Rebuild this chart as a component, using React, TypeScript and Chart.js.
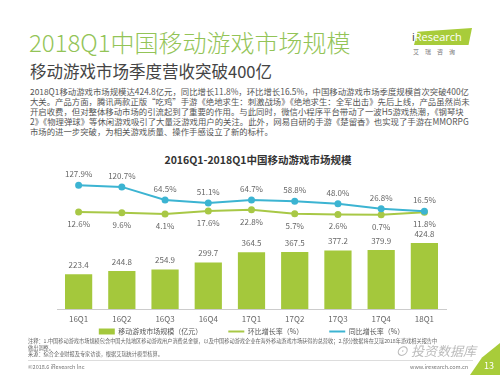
import React, { useEffect, useRef } from 'react';
import { Chart, registerables } from 'chart.js';

Chart.register(...registerables);

const categories = ['16Q1', '16Q2', '16Q3', '16Q4', '17Q1', '17Q2', '17Q3', '17Q4', '18Q1'];
const marketSize = [223.4, 244.8, 254.9, 299.7, 364.5, 367.5, 377.2, 379.9, 424.8];
const qoqGrowth = [12.6, 9.6, 4.1, 17.6, 22.8, 5.7, 2.6, 0.7, 11.8];
const yoyGrowth = [127.9, 120.7, 64.5, 51.1, 64.7, 58.8, 48.0, 26.8, 16.5];
const seriesNames = ['移动游戏市场规模（亿元）', '环比增长率（%）', '同比增长率（%）'];

const BAR_COLOR = '#a4c83c';
const QOQ_COLOR = '#a8c846';
const YOY_COLOR = '#3cb4d2';
const CJK = '"Noto Sans CJK SC", "Noto Sans", sans-serif';

const paragraph = [
  '2018Q1移动游戏市场规模达424.8亿元，同比增长11.8%，环比增长16.5%，中国移动游戏市场季度规模首次突破400亿',
  '大关。产品方面，腾讯两款正版“吃鸡”手游《绝地求生：刺激战场》《绝地求生：全军出击》先后上线，产品虽然尚未',
  '开启收费，但对整体移动市场的引流起到了重要的作用。与此同时，微信小程序平台带动了一波H5游戏热潮，《钢琴块',
  '2》《物理弹球》等休闲游戏吸引了大量泛游戏用户的关注。此外，网易自研的手游《楚留香》也实现了手游在MMORPG',
  '市场的进一步突破，为相关游戏质量、操作手感设立了新的标杆。',
];

const notes = [
  '注释：1.中国移动游戏市场规模包含中国大陆地区移动游戏用户消费总金额，以及中国移动游戏企业在海外移动游戏市场获得的总营收；2.部分数据将在艾瑞2018年游戏相关报告中',
  '做出调整。',
  '来源：综合企业财报及专家访谈，根据艾瑞统计模型核算。',
];

const valueLabels = {
  id: 'valueLabels',
  afterDatasetsDraw(chart: any) {
    const ctx = chart.ctx;
    ctx.save();
    ctx.font = '8px ' + CJK;
    ctx.fillStyle = '#666';
    ctx.textAlign = 'center';
    ctx.textBaseline = 'middle';
    chart.data.datasets.forEach((ds: any, di: number) => {
      const meta = chart.getDatasetMeta(di);
      meta.data.forEach((el: any, i: number) => {
        const v = ds.data[i] as number;
        if (di === 0) {
          ctx.fillText(v.toFixed(1), el.x, el.y - 9);
        } else if (di === 1) {
          ctx.fillText(v.toFixed(1) + '%', el.x, el.y + 12);
        } else {
          ctx.fillText(v.toFixed(1) + '%', el.x, el.y - 11);
        }
      });
    });
    ctx.restore();
  },
};

// moves the legend row up, closer to the axis labels, keeping wide gaps between items
const legendShift = {
  id: 'legendShift',
  afterLayout(chart: any) {
    const lg = chart.legend;
    if (lg) {
      lg.top -= 23;
      lg.bottom -= 23;
    }
  },
};

function ChartBox() {
  const ref = useRef<HTMLCanvasElement>(null);
  useEffect(() => {
    if (!ref.current) return;
    const chart = new Chart(ref.current, {
      type: 'bar',
      data: {
        labels: categories,
        datasets: [
          {
            type: 'bar',
            label: seriesNames[0],
            data: marketSize,
            backgroundColor: BAR_COLOR,
            yAxisID: 'yBar',
            barPercentage: 0.63,
            categoryPercentage: 1,
            order: 3,
          } as any,
          {
            type: 'line',
            label: seriesNames[1],
            data: qoqGrowth,
            borderColor: QOQ_COLOR,
            backgroundColor: QOQ_COLOR,
            borderWidth: 2,
            pointRadius: 2.5,
            pointBackgroundColor: QOQ_COLOR,
            pointBorderColor: QOQ_COLOR,
            yAxisID: 'yLine',
            tension: 0,
            order: 2,
          },
          {
            type: 'line',
            label: seriesNames[2],
            data: yoyGrowth,
            borderColor: YOY_COLOR,
            backgroundColor: YOY_COLOR,
            borderWidth: 2,
            pointRadius: 2.5,
            pointBackgroundColor: YOY_COLOR,
            pointBorderColor: YOY_COLOR,
            yAxisID: 'yLine',
            tension: 0,
            order: 1,
          },
        ],
      },
      options: {
        animation: false,
        responsive: false,
        maintainAspectRatio: false,
        layout: { padding: { left: 57, right: 54, top: 8, bottom: 0 } },
        plugins: {
          tooltip: { enabled: false },
          title: { display: false },
          legend: {
            position: 'bottom',
            labels: {
              font: { size: 7, family: CJK },
              color: '#555',
              usePointStyle: true,
              pointStyleWidth: 16,
              boxHeight: 6,
              padding: 26,
              generateLabels: (c: any) =>
                c.data.datasets.map((ds: any, i: number) => ({
                  text: ds.label,
                  fillStyle: ds.backgroundColor,
                  strokeStyle: ds.borderColor || ds.backgroundColor,
                  lineWidth: i === 0 ? 0 : 2,
                  pointStyle: i === 0 ? 'rect' : 'line',
                  fontColor: '#555',
                  hidden: false,
                  datasetIndex: i,
                })),
            },
          },
        },
        scales: {
          x: {
            offset: true,
            grid: { display: false, drawTicks: false },
            border: { display: true, color: '#cccccc', width: 1 },
            ticks: { font: { size: 8, family: CJK }, color: '#666', padding: 5 },
            afterFit: (s: any) => {
              s.height = 16;
            },
          },
          yBar: {
            display: false,
            min: 0,
            max: 843,
          },
          yLine: {
            display: false,
            min: -403,
            max: 158.8,
          },
        },
      } as any,
      plugins: [valueLabels, legendShift],
    });
    return () => chart.destroy();
  }, []);
  return (
    <canvas
      ref={ref}
      width={500}
      height={198}
      style={{ position: 'absolute', left: 0, top: 170, width: 500, height: 198 }}
    />
  );
}

export default function App() {
  return (
    <div
      style={{
        position: 'fixed',
        left: 0,
        top: 0,
        width: 500,
        height: 375,
        overflow: 'hidden',
        background: '#ffffff',
        fontFamily: CJK,
      }}
    >
      <div
        style={{
          position: 'absolute',
          left: 29,
          top: 27,
          fontSize: 24,
          lineHeight: '30px',
          color: '#93c457',
          fontWeight: 300,
          whiteSpace: 'nowrap',
        }}
      >
        2018Q1中国移动游戏市场规模
      </div>
      <div
        style={{
          position: 'absolute',
          left: 30,
          top: 61,
          fontSize: 16.5,
          lineHeight: '20px',
          color: '#444',
          whiteSpace: 'nowrap',
        }}
      >
        移动游戏市场季度营收突破400亿
      </div>

      {/* logo */}
      <div
        style={{
          position: 'absolute',
          left: 414,
          top: 28,
          width: 58,
          height: 17,
          background: '#a8cc3a',
          clipPath: 'polygon(6% 22%, 100% 0, 94% 100%, 0 100%)',
        }}
      />
      <div
        style={{
          position: 'absolute',
          left: 412,
          top: 29,
          fontSize: 11,
          lineHeight: '16px',
          color: '#fff',
          whiteSpace: 'nowrap',
          fontFamily: '"Open Sans", sans-serif',
        }}
      >
        <span style={{ color: '#333' }}>i</span>Research
      </div>
      <div
        style={{
          position: 'absolute',
          left: 413,
          top: 48,
          fontSize: 6,
          lineHeight: '8px',
          color: '#777',
          letterSpacing: 6,
          whiteSpace: 'nowrap',
        }}
      >
        艾瑞咨询
      </div>

      {paragraph.map((line, i) => (
        <div
          key={i}
          style={{
            position: 'absolute',
            left: 30,
            top: 86 + i * 10,
            fontSize: 8.4,
            lineHeight: '10px',
            color: '#555',
            whiteSpace: 'nowrap',
          }}
        >
          {line}
        </div>
      ))}

      <div
        style={{
          position: 'absolute',
          left: 0,
          width: 516,
          top: 153,
          textAlign: 'center',
          fontSize: 10.5,
          lineHeight: '14px',
          fontWeight: 700,
          color: '#333',
          whiteSpace: 'nowrap',
        }}
      >
        2016Q1-2018Q1中国移动游戏市场规模
      </div>

      <ChartBox />

      {notes.map((line, i) => (
        <div
          key={i}
          style={{
            position: 'absolute',
            left: 28,
            top: 338 + i * 6.5,
            fontSize: 5.2,
            lineHeight: '6px',
            color: '#666',
            whiteSpace: 'nowrap',
          }}
        >
          {line}
        </div>
      ))}
      <div
        style={{
          position: 'absolute',
          left: 28,
          top: 360,
          width: 445,
          height: 1,
          background: '#dddddd',
        }}
      />
      <div
        style={{
          position: 'absolute',
          left: 28,
          top: 364,
          fontSize: 5.5,
          lineHeight: '7px',
          color: '#777',
          whiteSpace: 'nowrap',
        }}
      >
        ©2018.6 iResearch Inc
      </div>
      <div
        style={{
          position: 'absolute',
          left: 410,
          top: 364,
          fontSize: 5.5,
          lineHeight: '7px',
          color: '#777',
          whiteSpace: 'nowrap',
        }}
      >
        www.iresearch.com.cn
      </div>
      <div
        style={{
          position: 'absolute',
          left: 395,
          top: 343,
          fontSize: 13,
          lineHeight: '16px',
          color: '#bbbbbb',
          fontStyle: 'italic',
          whiteSpace: 'nowrap',
        }}
      >
        ⊙ 投资数据库
      </div>
      <div
        style={{
          position: 'absolute',
          left: 470,
          top: 343,
          width: 30,
          height: 32,
          background: '#a8cc3a',
          clipPath: 'polygon(100% 0, 100% 100%, 0 100%, 40% 45%)',
        }}
      />
      <div
        style={{
          position: 'absolute',
          left: 484,
          top: 360,
          fontSize: 9,
          lineHeight: '12px',
          color: '#fff',
          whiteSpace: 'nowrap',
        }}
      >
        13
      </div>
    </div>
  );
}
